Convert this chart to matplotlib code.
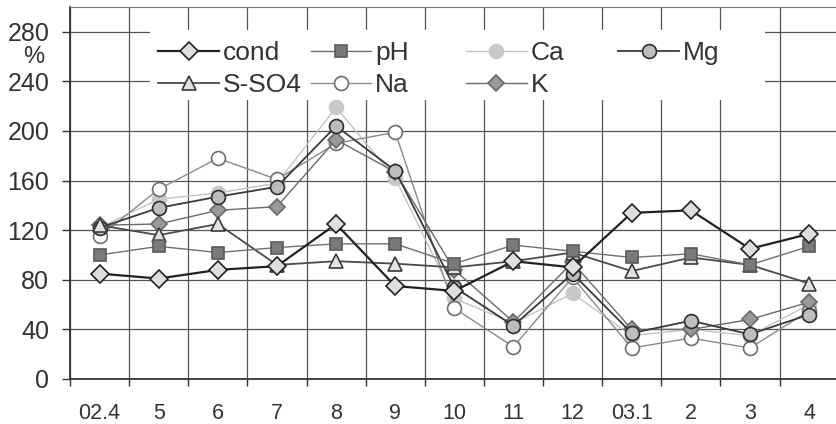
import numpy as np
import matplotlib
matplotlib.use('Agg')
import matplotlib.pyplot as plt
from matplotlib.patches import Rectangle
from matplotlib.legend import Legend

plt.rcParams['font.family'] = ['Liberation Sans', 'DejaVu Sans']

## data
months = ['02.4', '5', '6', '7', '8', '9', '10', '11', '12', '03.1', '2', '3', '4']
cond = [85, 81, 88, 91, 125, 75, 71, 95, 90, 134, 136, 105, 117]
pH = [100, 107, 102, 106, 109, 109, 93, 108, 103, 98, 101, 92, 107]
Ca = [122, 145, 150, 158, 219, 162, 65, 45, 69, 35, 40, 35, 60]
Mg = [122, 138, 147, 155, 204, 168, 74, 43, 85, 37, 47, 36, 52]
SSO4 = [124, 116, 125, 92, 95, 93, 90, 95, 102, 87, 98, 92, 77]
Na = [115, 153, 178, 161, 190, 199, 57, 26, 82, 25, 33, 25, 55]
K = [124, 125, 136, 139, 193, 167, 88, 46, 94, 40, 40, 48, 62]

yTicks = [0, 40, 80, 120, 160, 200, 240, 280]

x = np.arange(len(months))

fig = plt.figure(figsize=(8.37, 4.24), dpi=100)
ax = fig.add_axes([70 / 837, 1 - 379 / 424, 1 - 70 / 837 + 0.002, (379 - 7) / 424])

# series styles: (label, values, line color, marker, face, edge, size, lw)
series = [
    ('Ca', Ca, '#c4c4c4', 'o', '#c8c8c8', '#c8c8c8', 10, 1.0),
    ('Na', Na, '#8a8a8a', 'o', 'white', '#6e6e6e', 10, 1.0),
    ('K', K, '#6a6a6a', 'D', '#999999', '#6a6a6a', 8, 1.0),
    ('Mg', Mg, '#3a3a3a', 'o', '#bdbdbd', '#2e2e2e', 10, 1.3),
    ('S-SO4', SSO4, '#4a4a4a', '^', '#e2e2e2', '#3a3a3a', 10, 1.3),
    ('pH', pH, '#707070', 's', '#7a7a7a', '#5a5a5a', 9, 1.0),
    ('cond', cond, '#222222', 'D', '#dedede', '#222222', 9, 1.6),
]
handles = {}
for name, vals, lc, mk, fc, ec, ms, lw in series:
    h, = ax.plot(x, vals, color=lc, lw=lw, marker=mk, markerfacecolor=fc,
                 markeredgecolor=ec, markersize=ms, markeredgewidth=1.2, label=name)
    handles[name] = h

ax.set_xlim(-0.5, len(months) - 0.5)
ax.set_ylim(0, 300)
ax.set_yticks(yTicks)
ax.set_yticklabels([str(v) for v in yTicks], fontsize=18, color='#333333')
ax.set_xticks(x)
ax.set_xticklabels(months, fontsize=15.5, color='#333333')
ax.tick_params(axis='x', which='major', length=0, pad=17)
ax.tick_params(axis='y', which='major', length=6, color='#333333', width=1, pad=9)
ax.set_xticks(np.arange(-0.5, len(months)), minor=True)
ax.tick_params(axis='x', which='minor', length=5, color='#333333', width=1)
ax.grid(True, axis='y', which='major', color='#555555', lw=0.9)
ax.grid(True, axis='x', which='minor', color='#555555', lw=0.9)
for side in ['left', 'bottom']:
    ax.spines[side].set_color('#333333')
    ax.spines[side].set_linewidth(1.3)
ax.spines['top'].set_color('#777777')
ax.spines['right'].set_visible(False)
ax.set_axisbelow(True)

fig.text(34 / 837, 1 - 57 / 424, '%', fontsize=17, color='#333333', ha='center', va='center')

# legend: white box with four equal-width columns (like the original)
ax.add_patch(Rectangle((80 / 767, (379 - 100) / 372), 613 / 767, 70 / 372,
                       transform=ax.transAxes, facecolor='white', edgecolor='none', zorder=2.5))
columns = [['cond', 'S-SO4'], ['pH', 'Na'], ['Ca', 'K'], ['Mg']]
colStarts = [158, 310, 465, 617]
for names, px in zip(columns, colStarts):
    leg = Legend(ax, [handles[n] for n in names], names, loc='upper left',
                 bbox_to_anchor=((px - 70) / 767, (379 - 41) / 372), fontsize=19,
                 frameon=False, handlelength=2.3, handletextpad=0.15,
                 labelspacing=0.3, borderpad=0, borderaxespad=0)
    for t in leg.get_texts():
        t.set_color('#333333')
    leg.set_zorder(5)
    ax.add_artist(leg)

fig.savefig('out.png', dpi=100)
